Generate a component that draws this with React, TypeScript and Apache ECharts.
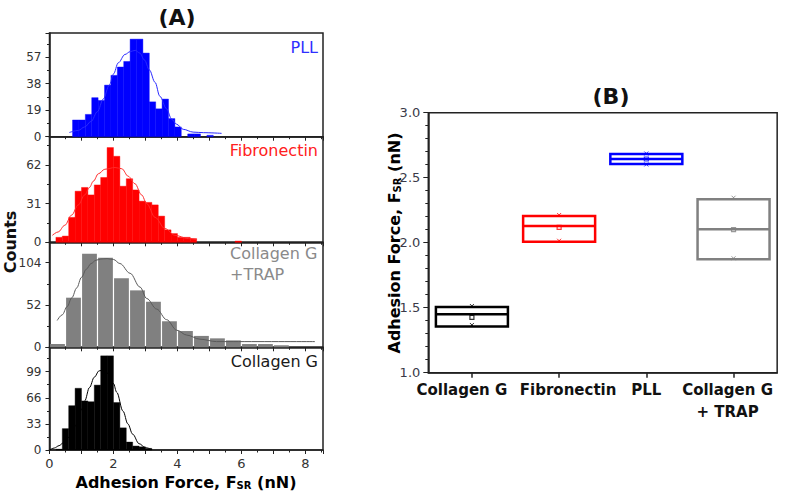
import React, { useEffect, useRef } from "react";
import * as echarts from "echarts";

const FONT = "DejaVu Sans";

// ---- Panel A: histograms [binLeft, binRight, count] ----
const pllBins = [
  [0.72, 0.92, 12], [0.92, 1.12, 12], [1.12, 1.32, 16], [1.32, 1.52, 28], [1.52, 1.72, 26],
  [1.72, 1.92, 37], [1.92, 2.12, 44], [2.12, 2.32, 50], [2.32, 2.52, 54], [2.52, 2.72, 70],
  [2.72, 2.92, 70], [2.92, 3.12, 60], [3.12, 3.32, 25], [3.32, 3.52, 20], [3.52, 3.72, 27],
  [3.72, 3.92, 13], [3.92, 4.12, 7], [4.32, 4.52, 2], [4.52, 4.72, 2], [4.92, 5.12, 1],
];
const fibBins = [
  [0.2, 0.4, 4], [0.4, 0.6, 5], [0.6, 0.8, 20], [0.8, 1.0, 41], [1.0, 1.2, 44], [1.2, 1.4, 38],
  [1.4, 1.6, 46], [1.6, 1.8, 52], [1.8, 2.0, 76], [2.0, 2.2, 69], [2.2, 2.4, 45], [2.4, 2.6, 51],
  [2.6, 2.8, 42], [2.8, 3.0, 33], [3.0, 3.2, 32], [3.2, 3.4, 30], [3.4, 3.6, 21], [3.6, 3.8, 10],
  [3.8, 4.0, 7], [4.0, 4.2, 4], [4.2, 4.4, 4], [4.4, 4.6, 3], [5.8, 6.0, 1],
];
const trapBins = [
  [0, 0.5, 4], [0.5, 1, 61], [1, 1.5, 115], [1.5, 2, 110], [2, 2.5, 85], [2.5, 3, 70],
  [3, 3.5, 56], [3.5, 4, 32], [4, 4.5, 20], [4.5, 5, 14], [5, 5.5, 11], [5.5, 6, 8.5],
  [6, 6.5, 4], [6.5, 7, 4], [7, 7.5, 2.5],
];
const colBins = [
  [0.2, 0.4, 1], [0.4, 0.6, 27], [0.6, 0.8, 56], [0.8, 1.0, 78], [1.0, 1.2, 62], [1.2, 1.4, 61],
  [1.4, 1.6, 82], [1.6, 1.8, 119], [1.8, 2.0, 119], [2.0, 2.2, 60], [2.2, 2.4, 28], [2.4, 2.6, 10],
  [2.6, 2.8, 5], [2.8, 3.0, 4], [3.0, 3.2, 2],
];

// ---- Panel A: fitted curves [force, count] ----
const pllFit = [
  [0.62, 3], [0.9, 4.5], [1.1, 7], [1.3, 11], [1.5, 18], [1.68, 27], [1.87, 37], [2.0, 45],
  [2.15, 53], [2.36, 59], [2.52, 61], [2.68, 62], [2.82, 60], [2.97, 55], [3.12, 48], [3.3, 39],
  [3.45, 29], [3.66, 20], [3.82, 12.5], [3.97, 9], [4.18, 5.3], [4.49, 3.3], [4.81, 2.9], [5.38, 2.4],
];
const fibFit = [
  [0.09, 5.6], [0.27, 8.3], [0.48, 13.7], [0.69, 21.8], [0.9, 30], [1.1, 38], [1.25, 44],
  [1.37, 49], [1.53, 55], [1.73, 58.6], [2.05, 60], [2.26, 59], [2.46, 53], [2.67, 47],
  [2.88, 38], [3.04, 31], [3.3, 20], [3.61, 11], [3.92, 5.6], [4.34, 3], [4.6, 2],
];
const trapFit = [
  [0.24, 33], [0.4, 40], [0.55, 50], [0.7, 61], [0.85, 73], [1.0, 86], [1.15, 96], [1.3, 103],
  [1.45, 107], [1.6, 108.5], [1.8, 109], [2.0, 108], [2.2, 103], [2.52, 91], [2.83, 74],
  [3.04, 60], [3.35, 47], [3.66, 34], [3.98, 21], [4.29, 15], [4.7, 10], [5.22, 7], [5.74, 7], [8.3, 7],
];
const colFit = [
  [0, 0], [0.15, 2.5], [0.3, 5.5], [0.43, 9], [0.6, 16], [0.8, 30], [1.0, 51], [1.1, 62],
  [1.25, 79], [1.4, 92], [1.55, 100], [1.7, 101], [1.85, 96], [2.0, 84], [2.1, 73], [2.3, 49],
  [2.45, 33], [2.6, 20], [2.8, 8], [3.0, 3], [3.2, 0.5],
];

const panelNames = ["PLL", "Fibronectin", "Collagen G\n+TRAP", "Collagen G"];
const yMaxes = [74.4, 84.7, 129.1, 129.8];
const yIntervals = [19, 31, 52, 33];

// ---- Panel B: box chart ----
const boxCategories = ["Collagen G", "Fibronectin", "PLL", "Collagen G\n+ TRAP"];
const boxQ1 = [1.355, 2.008, 2.605, 1.872];
const boxMedian = [1.45, 2.128, 2.644, 2.103];
const boxQ3 = [1.505, 2.205, 2.682, 2.334];
const boxMean = [1.426, 2.118, 2.644, 2.1];
const boxHighMark = [1.513, 2.213, 2.686, 2.346];
const boxLowMark = [1.367, 2.015, 2.602, 1.88];

export default function App() {
  const ref = useRef<HTMLDivElement>(null);

  useEffect(() => {
    document.body.style.margin = "0";
    if (!ref.current) return;
    const chart = echarts.init(ref.current, undefined, { renderer: "svg" });

    const axisColor = "#222";
    const labelColor = "#333";
    const panelTops = [33, 136.7, 242.3, 347.3];
    const panelHeights = [103.7, 105.6, 105, 102.7];
    const barColors = ["#0000ff", "#ff0000", "#808080", "#000000"];
    const lineColors = ["#2a2aff", "#ff2a2a", "#5a5a5a", "#000000"];
    const nameColors = ["#2f2fff", "#ff2020", "#8a8a8a", "#1a1a1a"];
    const allBins = [pllBins, fibBins, trapBins, colBins];
    const allFits = [pllFit, fibFit, trapFit, colFit];
    const boxColors = ["#000000", "#ff0000", "#0000ff", "#808080"];

    const grids: any[] = [];
    const xAxes: any[] = [];
    const yAxes: any[] = [];
    const series: any[] = [];

    for (let i = 0; i < 4; i++) {
      grids.push({
        left: 49.5, width: 273.5, top: panelTops[i], height: panelHeights[i],
        show: true, borderColor: axisColor, borderWidth: 1.5, backgroundColor: "transparent",
      });
      xAxes.push({
        gridIndex: i, type: "value", min: 0, max: 8.55, interval: 1,
        axisLine: { show: true, lineStyle: { color: axisColor, width: 1.5 } },
        axisTick: { show: true, length: 4, lineStyle: { color: axisColor, width: 1 } },
        minorTick: { show: true, splitNumber: 2, length: 2.5, lineStyle: { color: axisColor, width: 1 } },
        splitLine: { show: false },
        axisLabel: {
          show: i === 3, fontFamily: FONT, fontSize: 13, color: labelColor, margin: 7,
          showMaxLabel: false,
          formatter: (v: number) => (Math.abs(v % 2) < 1e-9 ? String(v) : ""),
        },
      });
      yAxes.push({
        gridIndex: i, type: "value", min: 0, max: yMaxes[i], interval: yIntervals[i],
        axisLine: { show: true, lineStyle: { color: axisColor, width: 1.5 } },
        axisTick: { show: true, length: 4, lineStyle: { color: axisColor, width: 1 } },
        minorTick: { show: true, splitNumber: 2, length: 2.5, lineStyle: { color: axisColor, width: 1 } },
        splitLine: { show: false },
        axisLabel: { fontFamily: FONT, fontSize: 12, color: labelColor, margin: 8, showMaxLabel: false },
      });
      const fill = barColors[i];
      const gap = i === 2 ? 1.2 : 0;
      series.push({
        type: "custom", xAxisIndex: i, yAxisIndex: i, data: allBins[i],
        encode: { x: [0, 1], y: 2 }, z: 2,
        renderItem: (_p: any, api: any) => {
          const a = api.coord([api.value(0), api.value(2)]);
          const b = api.coord([api.value(1), 0]);
          return {
            type: "rect",
            shape: { x: a[0] + gap / 2, y: a[1], width: b[0] - a[0] - gap, height: b[1] - a[1] },
            style: gap ? { fill } : { fill, stroke: fill, lineWidth: 0.4 },
          };
        },
      });
      series.push({
        type: "line", xAxisIndex: i, yAxisIndex: i, data: allFits[i], symbol: "none",
        smooth: 0.35, smoothMonotone: "x", z: 3,
        lineStyle: { color: lineColors[i], width: 1 },
      });
    }

    // Panel B
    grids.push({
      left: 428.3, top: 112.7, width: 356.7, height: 260,
      show: true, borderColor: axisColor, borderWidth: 1.5, backgroundColor: "transparent",
    });
    const baseRich = { fontFamily: FONT, fontSize: 15, fontWeight: "bold", color: "#111", lineHeight: 22 };
    xAxes.push({
      gridIndex: 4, type: "category", data: boxCategories, boundaryGap: true,
      axisLine: { show: true, lineStyle: { color: axisColor, width: 1.5 } },
      axisTick: { show: true, alignWithLabel: true, length: 5, lineStyle: { color: axisColor, width: 1.5 } },
      splitLine: { show: false },
      axisLabel: {
        interval: 0, margin: 6,
        formatter: (v: string, idx: number) => v.split("\n").map((l) => `{c${idx}|${l}}`).join("\n"),
        rich: {
          c0: { ...baseRich, padding: [0, 20, 0, 0] },
          c1: { ...baseRich, padding: [0, 0, 0, 18] },
          c2: { ...baseRich },
          c3: { ...baseRich, padding: [0, 12, 0, 0] },
        },
      },
    });
    yAxes.push({
      gridIndex: 4, type: "value", min: 1, max: 3, interval: 0.5,
      axisLine: { show: true, lineStyle: { color: axisColor, width: 1.5 } },
      axisTick: { show: true, length: 5, lineStyle: { color: axisColor, width: 1 } },
      minorTick: { show: true, splitNumber: 5, length: 3, lineStyle: { color: axisColor, width: 1 } },
      splitLine: { show: false },
      axisLabel: {
        fontFamily: FONT, fontSize: 13, color: "#3a3a48", margin: 8,
        formatter: (v: number) => v.toFixed(1),
      },
    });
    series.push({
      type: "boxplot", xAxisIndex: 4, yAxisIndex: 4, boxWidth: [72, 72], z: 2,
      data: boxCategories.map((_c, i) => ({
        value: [boxQ1[i], boxQ1[i], boxMedian[i], boxQ3[i], boxQ3[i]],
        itemStyle: { color: "transparent", borderColor: boxColors[i], borderWidth: 2.5 },
      })),
    });
    series.push({
      type: "scatter", xAxisIndex: 4, yAxisIndex: 4, symbol: "rect", symbolSize: 4, z: 4,
      data: boxMean.map((v, i) => ({
        value: [i, v], itemStyle: { color: "transparent", borderColor: boxColors[i], borderWidth: 1.2 },
      })),
    });
    const xPath = "path://M0,0L10,10M10,0L0,10";
    series.push({
      type: "scatter", xAxisIndex: 4, yAxisIndex: 4, symbol: xPath, symbolSize: 4, z: 4,
      data: [...boxHighMark, ...boxLowMark].map((v, k) => ({
        value: [k % 4, v], itemStyle: { color: "transparent", borderColor: boxColors[k % 4], borderWidth: 1 },
      })),
    });

    const boldRich = {
      a: { fontFamily: FONT, fontSize: 16, fontWeight: "bold", color: "#111", lineHeight: 20, verticalAlign: "bottom" },
      s: { fontFamily: FONT, fontSize: 10, fontWeight: "bold", color: "#111", lineHeight: 8, verticalAlign: "bottom" },
    };
    const forceTitle = "{a|Adhesion Force, F}{s|SR}{a| (nN)}";

    const graphic: any[] = [
      { type: "text", x: 177, y: 17, style: { text: "(A)", font: `bold 22px "${FONT}"`, fill: "#111", align: "center", verticalAlign: "middle" } },
      { type: "text", x: 611, y: 96, style: { text: "(B)", font: `bold 22px "${FONT}"`, fill: "#111", align: "center", verticalAlign: "middle" } },
      { type: "text", x: 10, y: 242, rotation: Math.PI / 2, style: { text: "Counts", font: `bold 16px "${FONT}"`, fill: "#111", align: "center", verticalAlign: "middle" } },
      { type: "text", x: 186, y: 480, style: { text: forceTitle, rich: boldRich, align: "center", verticalAlign: "middle" } },
      { type: "text", x: 392, y: 243, rotation: Math.PI / 2, style: { text: forceTitle, rich: boldRich, align: "center", verticalAlign: "middle" } },
      { type: "text", x: 318, y: 47, style: { text: panelNames[0], font: `16px "${FONT}"`, fill: nameColors[0], align: "right", verticalAlign: "middle" } },
      { type: "text", x: 318, y: 150, style: { text: panelNames[1], font: `16px "${FONT}"`, fill: nameColors[1], align: "right", verticalAlign: "middle" } },
      { type: "text", x: 230, y: 264, style: { text: panelNames[2], font: `16px "${FONT}"`, fill: nameColors[2], align: "left", verticalAlign: "middle", lineHeight: 20.5 } },
      { type: "text", x: 318, y: 361.5, style: { text: panelNames[3], font: `16px "${FONT}"`, fill: nameColors[3], align: "right", verticalAlign: "middle" } },
    ];

    chart.setOption({
      animation: false,
      backgroundColor: "#ffffff",
      textStyle: { fontFamily: FONT },
      grid: grids,
      xAxis: xAxes,
      yAxis: yAxes,
      series,
      graphic,
    });

    return () => chart.dispose();
  }, []);

  return <div ref={ref} style={{ width: 787, height: 497 }} />;
}
